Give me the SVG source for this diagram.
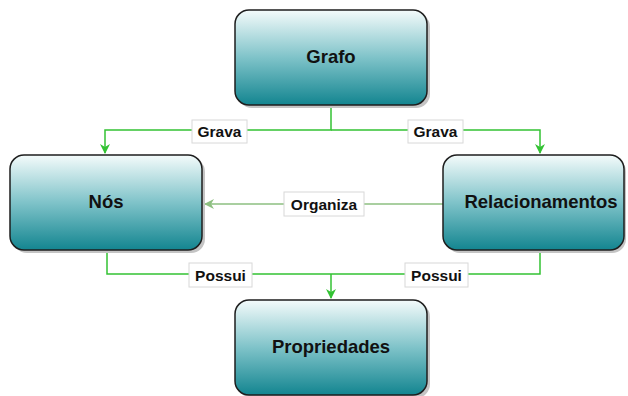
<svg xmlns="http://www.w3.org/2000/svg" width="628" height="396" viewBox="0 0 628 396">
<style>
.box{stroke:#1e1e1e;stroke-width:1.5;fill:url(#g)}
.sh{fill:#c4c4c4}
.t{font-family:"Liberation Sans",Arial,sans-serif;font-weight:bold;font-size:18.5px;fill:#111;text-anchor:middle}
.e{fill:none;stroke:#33c233;stroke-width:1.5}
.e2{fill:none;stroke:#8dbf80;stroke-width:1.5}
.lb{fill:#fff;stroke:#d8d8d8;stroke-width:1}
.lt{font-family:"Liberation Sans",Arial,sans-serif;font-weight:bold;font-size:15.5px;fill:#111;text-anchor:middle}
</style>
<defs>
<linearGradient id="g" x1="0" y1="0" x2="0" y2="1">
<stop offset="0" stop-color="#f4fbfb"/>
<stop offset="0.5" stop-color="#7fc3c9"/>
<stop offset="1" stop-color="#138590"/>
</linearGradient>
<marker id="a" viewBox="0 0 10 10" refX="9" refY="5" markerWidth="10" markerHeight="10" markerUnits="userSpaceOnUse" orient="auto"><path d="M0,0 L10,5 L0,10 L3,5 Z" fill="#33c233"/></marker>
<marker id="a2" viewBox="0 0 10 10" refX="9" refY="5" markerWidth="10" markerHeight="10" markerUnits="userSpaceOnUse" orient="auto"><path d="M0,0 L10,5 L0,10 L3,5 Z" fill="#8dbf80"/></marker>
</defs>
<g id="edges">
<path class="e" d="M331,106 V130 H105 V153" marker-end="url(#a)"/>
<path class="e" d="M331,130 H540 V153" marker-end="url(#a)"/>
<path class="e2" d="M443,204 H205" marker-end="url(#a2)"/>
<path class="e" d="M107,251 V274 H540 V251"/>
<path class="e" d="M331,274 V298" marker-end="url(#a)"/>
<rect class="lb" x="192" y="120" width="55" height="23"/>
<text class="lt" x="219.5" y="137">Grava</text>
<rect class="lb" x="408" y="120" width="55" height="23"/>
<text class="lt" x="435.5" y="137">Grava</text>
<rect class="lb" x="284" y="192" width="80" height="24"/>
<text class="lt" x="324" y="209.5">Organiza</text>
<rect class="lb" x="189" y="263" width="63" height="24"/>
<text class="lt" x="220.5" y="280.5">Possui</text>
<rect class="lb" x="405" y="263" width="63" height="24"/>
<text class="lt" x="436.5" y="280.5">Possui</text>
</g>
<g id="grafo">
<rect class="sh" x="238" y="13" width="192" height="95" rx="14"/>
<rect class="box" x="235" y="10" width="192" height="95" rx="14"/>
<text class="t" x="331" y="63">Grafo</text>
</g>
<g id="nos">
<rect class="sh" x="13" y="158" width="192" height="95" rx="14"/>
<rect class="box" x="10" y="155" width="192" height="95" rx="14"/>
<text class="t" x="106" y="208">Nós</text>
</g>
<g id="relacionamentos">
<rect class="sh" x="446" y="158" width="180" height="95" rx="14"/>
<rect class="box" x="443" y="155" width="181" height="95" rx="14"/>
<text class="t" x="541" y="208">Relacionamentos</text>
</g>
<g id="propriedades">
<rect class="sh" x="238" y="303" width="192" height="95" rx="14"/>
<rect class="box" x="235" y="300" width="192" height="95" rx="14"/>
<text class="t" x="331" y="353">Propriedades</text>
</g>
</svg>
